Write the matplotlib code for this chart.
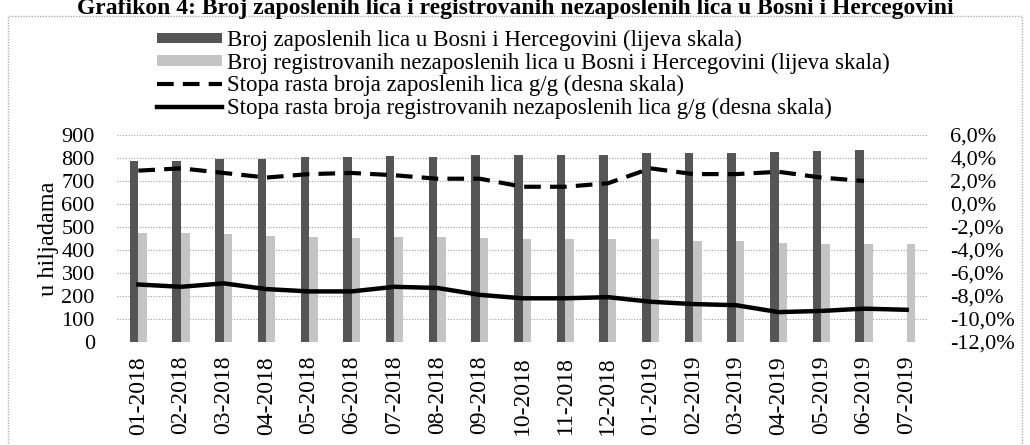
import numpy as np
import matplotlib
matplotlib.use('Agg')
import matplotlib.pyplot as plt
from matplotlib.patches import Rectangle
from matplotlib.ticker import FuncFormatter

plt.rcParams['font.family'] = ['Liberation Serif', 'DejaVu Serif']

# data
months = ['01-2018', '02-2018', '03-2018', '04-2018', '05-2018', '06-2018',
          '07-2018', '08-2018', '09-2018', '10-2018', '11-2018', '12-2018',
          '01-2019', '02-2019', '03-2019', '04-2019', '05-2019', '06-2019', '07-2019']
employed = [786, 788, 795, 796, 803, 806, 809, 803, 814, 813, 813, 813,
            820, 820, 821, 827, 832, 835, np.nan]
unemployed = [474, 475, 468, 461, 458, 453, 458, 458, 451, 446, 446, 446,
              446, 441, 441, 432, 426, 426, 426]
growth_employed = [2.9, 3.1, 2.7, 2.3, 2.6, 2.7, 2.5, 2.2, 2.2, 1.5, 1.5, 1.8,
                   3.1, 2.6, 2.6, 2.8, 2.3, 2.0, np.nan]
growth_unemployed = [-7.0, -7.2, -6.9, -7.4, -7.6, -7.6, -7.2, -7.3, -7.9, -8.2, -8.2, -8.1,
                     -8.5, -8.7, -8.8, -9.4, -9.3, -9.1, -9.2]

labels = ['Broj zaposlenih lica u Bosni i Hercegovini (lijeva skala)',
          'Broj registrovanih nezaposlenih lica u Bosni i Hercegovini (lijeva skala)',
          'Stopa rasta broja zaposlenih lica g/g (desna skala)',
          'Stopa rasta broja registrovanih nezaposlenih lica g/g (desna skala)']

W, H = 1030, 445
fig = plt.figure(figsize=(W / 100, H / 100), dpi=100, facecolor='white')

# outer dotted frame
fig.patches.append(Rectangle((8 / W, -0.01), 1014 / W, 1 - 16 / H + 0.01,
                             transform=fig.transFigure, fill=False,
                             ec='#b0b0b0', lw=1, ls=(0, (1, 1))))

fig.text(0.5, 1 - 14 / H, 'Grafikon 4: Broj zaposlenih lica i registrovanih nezaposlenih lica u Bosni i Hercegovini',
         ha='center', va='baseline', fontsize=17, fontweight='bold')

ax = fig.add_axes([117 / W, 1 - 342 / H, 811 / W, 207 / H])
x = np.arange(len(months))
bw = 0.2
b1 = ax.bar(x - bw / 2, employed, width=bw, color='#555555', label=labels[0], zorder=2)
b2 = ax.bar(x + bw / 2, unemployed, width=bw, color='#c4c4c4', label=labels[1], zorder=2)
ax.set_ylim(0, 900)
ax.set_yticks(np.arange(0, 901, 100))
ax.set_xlim(-0.5, len(months) - 0.5)
ax.set_xticks(x)
ax.set_xticklabels(months, rotation=90, fontsize=17)
ax.grid(axis='y', color='#a0a0a0', lw=0.8, ls=(0, (1, 1.5)), zorder=0)
ax.tick_params(length=0)
ax.tick_params(axis='y', labelsize=16, pad=16)
ax.tick_params(axis='x', pad=10)
ax.set_ylabel('u hiljadama', fontsize=17.5, labelpad=2)
for s in ax.spines.values():
    s.set_visible(False)

ax2 = ax.twinx()
l1, = ax2.plot(x, growth_employed, color='black', lw=3, ls=(0, (4, 2.2)), label=labels[2], zorder=3)
l2, = ax2.plot(x, growth_unemployed, color='black', lw=3.2, label=labels[3], zorder=3)
ax2.set_ylim(-12, 6)
ax2.set_yticks(np.arange(-12, 7, 2))
ax2.yaxis.set_major_formatter(FuncFormatter(lambda v, p: f'{v:.1f}%'.replace('.', ',')))
ax2.tick_params(length=0, labelsize=16, pad=16)
for s in ax2.spines.values():
    s.set_visible(False)

fig.legend([b1, b2, l1, l2], labels, loc='upper left', bbox_to_anchor=(157 / W, 1 - 30 / H),
           frameon=False, fontsize=16.5, handlelength=2.85, handleheight=0.35,
           handletextpad=0.2, labelspacing=0.06, borderpad=0, borderaxespad=0)

fig.savefig('out.png', dpi=100)
